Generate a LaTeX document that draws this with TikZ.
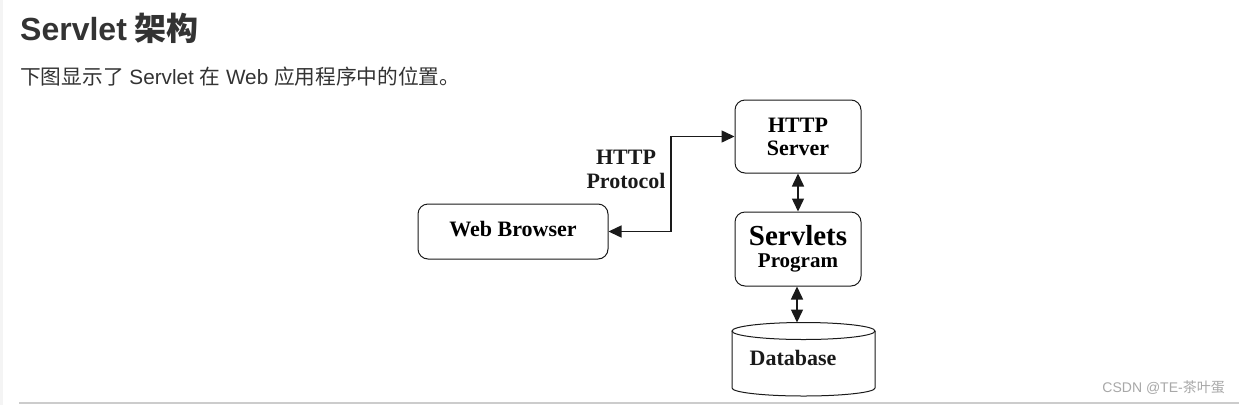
\documentclass[tikz,border=0pt]{standalone}
\usepackage{fontspec}
\setmainfont{Liberation Serif}
\newfontfamily\sansf{Liberation Sans}
\newfontfamily\cjk{Noto Sans CJK SC}
\usetikzlibrary{arrows.meta}
\definecolor{txt}{HTML}{333333}
\definecolor{strip}{HTML}{F4F4F4}
\definecolor{rule}{HTML}{CCCCCC}
\definecolor{wm}{HTML}{A8A8A8}
\definecolor{ink}{HTML}{1A1A1A}
\tikzset{
  box/.style={draw=ink, line width=1pt, rounded corners=10pt, align=center, inner sep=0pt, font=\bfseries\fontsize{22}{23}\selectfont},
  conn/.style={draw=ink, line width=1.5pt, {Triangle[length=13pt,width=12pt]}-{Triangle[length=13pt,width=12pt]}},
  lbl/.style={font=\bfseries\fontsize{22}{24}\selectfont, align=center, inner sep=0pt, text=ink}
}
\begin{document}
\begin{tikzpicture}[x=1pt,y=-1pt]
\useasboundingbox (0,0) rectangle (1239,405);
\fill[white] (0,0) rectangle (1239,405);
\fill[strip] (0,0) rectangle (3,405);
\draw[rule, line width=1.5pt] (19,403) -- (1239,403);
% title and subtitle
\node[anchor=base west, inner sep=0pt, text=txt, font=\fontsize{32}{34}\selectfont] (title) at (20,40) {{\sansf\bfseries Servlet} {\cjk\bfseries 架构}};
\node[anchor=base west, inner sep=0pt, text=txt, font=\sansf\fontsize{20.7}{23}\selectfont] (sub) at (20,84) {{\cjk 下图显示了} Servlet {\cjk 在} Web {\cjk 应用程序中的位置。}};
% boxes
\node[box, minimum width=126pt, minimum height=73pt] (server) at (798,136.5) {HTTP\\Server};
\node[box, minimum width=126pt, minimum height=74pt] (servlets) at (798,249) {{\fontsize{29}{30}\selectfont Servlets}\\[-1pt]{\fontsize{21}{22}\selectfont Program}};
\node[box, minimum width=190pt, minimum height=55pt] (browser) at (513,231.5) {\raisebox{5pt}{Web Browser}};
% database cylinder
\coordinate (dbtop) at (797,322.5);
\draw[ink, line width=1pt, fill=white] (732,331) -- (732,388) arc[start angle=180, end angle=360, x radius=71.5pt, y radius=8pt] -- (875,331);
\draw[ink, line width=1pt] (803.5,331) ellipse[x radius=71.5pt, y radius=8.5pt];
\node[lbl] (db) at (793,358) {Database};
% protocol label
\node[lbl] (proto) at (626,169) {HTTP\\Protocol};
% connectors
\coordinate (bend) at (671,231.5);
\draw[conn] (browser.east) -- (bend) |- (server.west);
\draw[conn] (server.south) -- (servlets.north);
\draw[conn] (servlets.south -| dbtop) -- (dbtop);
% watermark
\node[anchor=base east, inner sep=0pt, text=wm, font=\sansf\fontsize{14}{16}\selectfont] (wmk) at (1225,392) {CSDN @TE-{\cjk 茶叶蛋}};
\end{tikzpicture}
\end{document}
